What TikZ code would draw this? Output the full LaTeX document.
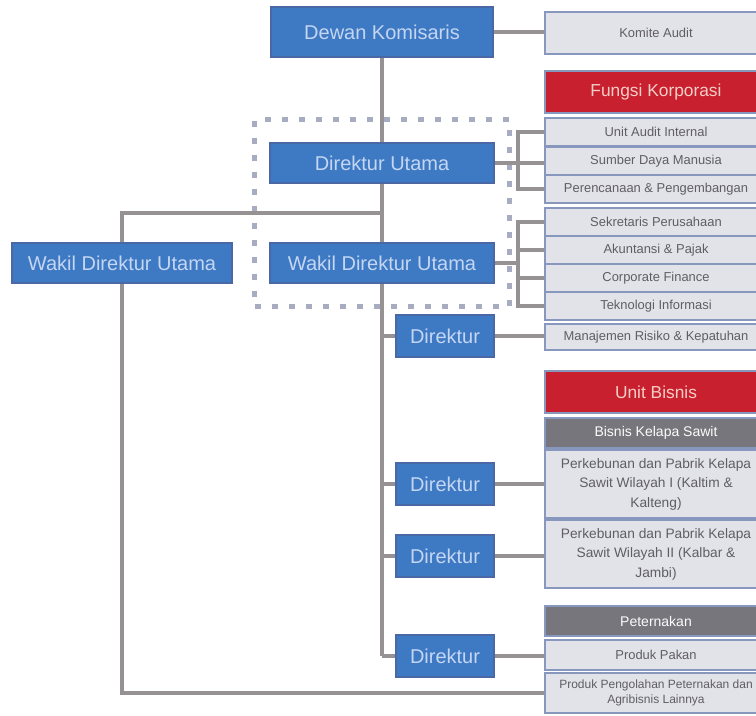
\documentclass[tikz,border=0pt]{standalone}
\usepackage{fontspec}
\setmainfont{Liberation Sans}
\usepackage{xcolor}
\usepackage{tikz}
\usetikzlibrary{positioning,calc,fit,backgrounds}
\definecolor{boxblue}{RGB}{62,121,196}
\definecolor{boxedge}{RGB}{74,104,166}
\definecolor{boxtext}{RGB}{196,214,242}
\definecolor{rowfill}{RGB}{226,227,233}
\definecolor{rowedge}{RGB}{136,151,190}
\definecolor{rowtext}{RGB}{96,93,100}
\definecolor{unitred}{RGB}{200,32,46}
\definecolor{redtext}{RGB}{246,206,200}
\definecolor{headgray}{RGB}{118,118,124}
\definecolor{linegray}{RGB}{150,146,148}
\definecolor{dotgray}{RGB}{168,172,192}

\begin{document}
\begin{tikzpicture}[x=0.75pt,y=-0.75pt]
\tikzset{jabatan/.style={draw=boxedge,line width=1pt,fill=boxblue,text=boxtext,
  font=\fontsize{15}{17}\selectfont,inner sep=0pt,minimum height=30pt}}
\tikzset{unit/.style={draw=rowedge,line width=1.5pt,fill=rowfill,text=rowtext,
  font=\fontsize{9.7}{13}\selectfont,inner sep=0pt,minimum width=166.5pt,align=center}}
\tikzset{merah/.style={unit,fill=unitred,text=redtext,font=\fontsize{13}{15}\selectfont}}
\tikzset{kepala/.style={unit,fill=headgray,text=white!88!rowfill,font=\fontsize{10.5}{12}\selectfont}}
\tikzset{link/.style={draw=linegray,line width=3pt}}
\tikzset{grup/.style={draw=dotgray,line width=4pt,dash pattern=on 4.5pt off 8.25pt,
  inner xsep=11pt,inner ysep=17pt}}
\useasboundingbox (0,0) rectangle (756,715);
\clip (0,0) rectangle (756,715);
% direksi
\node[jabatan,minimum width=166.5pt,minimum height=37.5pt] (dekom) at (382,32) {Dewan Komisaris};
\node[jabatan,minimum width=168pt] (dirut) at (382,163) {Direktur Utama};
\node[jabatan,minimum width=168pt] (wakil) at (382,263) {Wakil Direktur Utama};
\node[jabatan,minimum width=165pt] (wakilL) at (122,263) {Wakil Direktur Utama};
\foreach \nm/\y in {dir1/336, dir2/484, dir3/556, dir4/656}
  \node[jabatan,minimum width=73.5pt,minimum height=31.5pt] (\nm) at (445,\y) {Direktur};
% kolom kanan
\node[unit,minimum height=32pt] (komite) at (656,33) {Komite Audit};
\node[merah,minimum height=31pt] (korporasi) at (656,92) {Fungsi Korporasi};
\foreach \nm/\y/\txt in {audit/132/Unit Audit Internal, sdm/161/Sumber Daya Manusia,
  rencana/189/Perencanaan \& Pengembangan, sekper/222/Sekretaris Perusahaan,
  akun/250/Akuntansi \& Pajak, corpfin/278/Corporate Finance, ti/306/Teknologi Informasi}
  \node[unit,minimum height=21pt] (\nm) at (656,\y) {\txt};
\node[unit,minimum height=20pt] (manrisk) at (656,337) {Manajemen Risiko \& Kepatuhan};
\node[merah,minimum height=31pt] (bisnis) at (656,392) {Unit Bisnis};
\node[kepala,minimum height=22.5pt] (sawit) at (656,433) {Bisnis Kelapa Sawit};
\node[unit,minimum height=51pt,font=\fontsize{10.3}{14.6}\selectfont] (sawitA) at (656,484)
  {Perkebunan dan Pabrik Kelapa\\Sawit Wilayah I (Kaltim \&\\Kalteng)};
\node[unit,minimum height=51pt,font=\fontsize{10.3}{14.6}\selectfont] (sawitB) at (656,554)
  {Perkebunan dan Pabrik Kelapa\\Sawit Wilayah II (Kalbar \&\\Jambi)};
\node[kepala,minimum height=23pt] (ternak) at (656,621) {Peternakan};
\node[unit,minimum height=23pt] (pakan) at (656,655) {Produk Pakan};
\node[unit,minimum height=30pt,font=\fontsize{9}{11.5}\selectfont] (lain) at (656,693)
  {Produk Pengolahan Peternakan dan\\Agribisnis Lainnya};
% garis
\coordinate (brA) at (518,0);
\coordinate (jt) at ($(dirut.south)!0.5!(wakil.north)$);
\begin{scope}[on background layer]
\node[grup,fit=(dirut)(wakil)] (inti) {};
\draw[link] (dekom) -- (dirut);
\draw[link] (dirut) -- (wakil);
\draw[link] (jt) -| (wakilL.north);
\draw[link] (dekom.east) -- (dekom.east -| komite.west);
\draw[link] (dirut.east) -- (dirut.east -| sdm.west);
\draw[link] (audit.west) -- (audit.west -| brA) -- (rencana.west -| brA) -- (rencana.west);
\draw[link] (wakil.east) -- (wakil.east -| brA);
\draw[link] (sekper.west) -- (sekper.west -| brA) -- (ti.west -| brA) -- (ti.west);
\foreach \r in {akun,corpfin}
  \draw[link] (\r.west) -- (\r.west -| brA);
\draw[link] (wakil.south) -- (wakil.south |- dir4.west);
\foreach \d/\t in {dir1/manrisk, dir2/sawitA, dir3/sawitB, dir4/pakan} {
  \draw[link] (\d.west -| wakil.south) -- (\d.west);
  \draw[link] (\d.east) -- (\d.east -| \t.west);
}
\draw[link] (wakilL.south) |- (lain.west);
\end{scope}
\end{tikzpicture}
\end{document}
